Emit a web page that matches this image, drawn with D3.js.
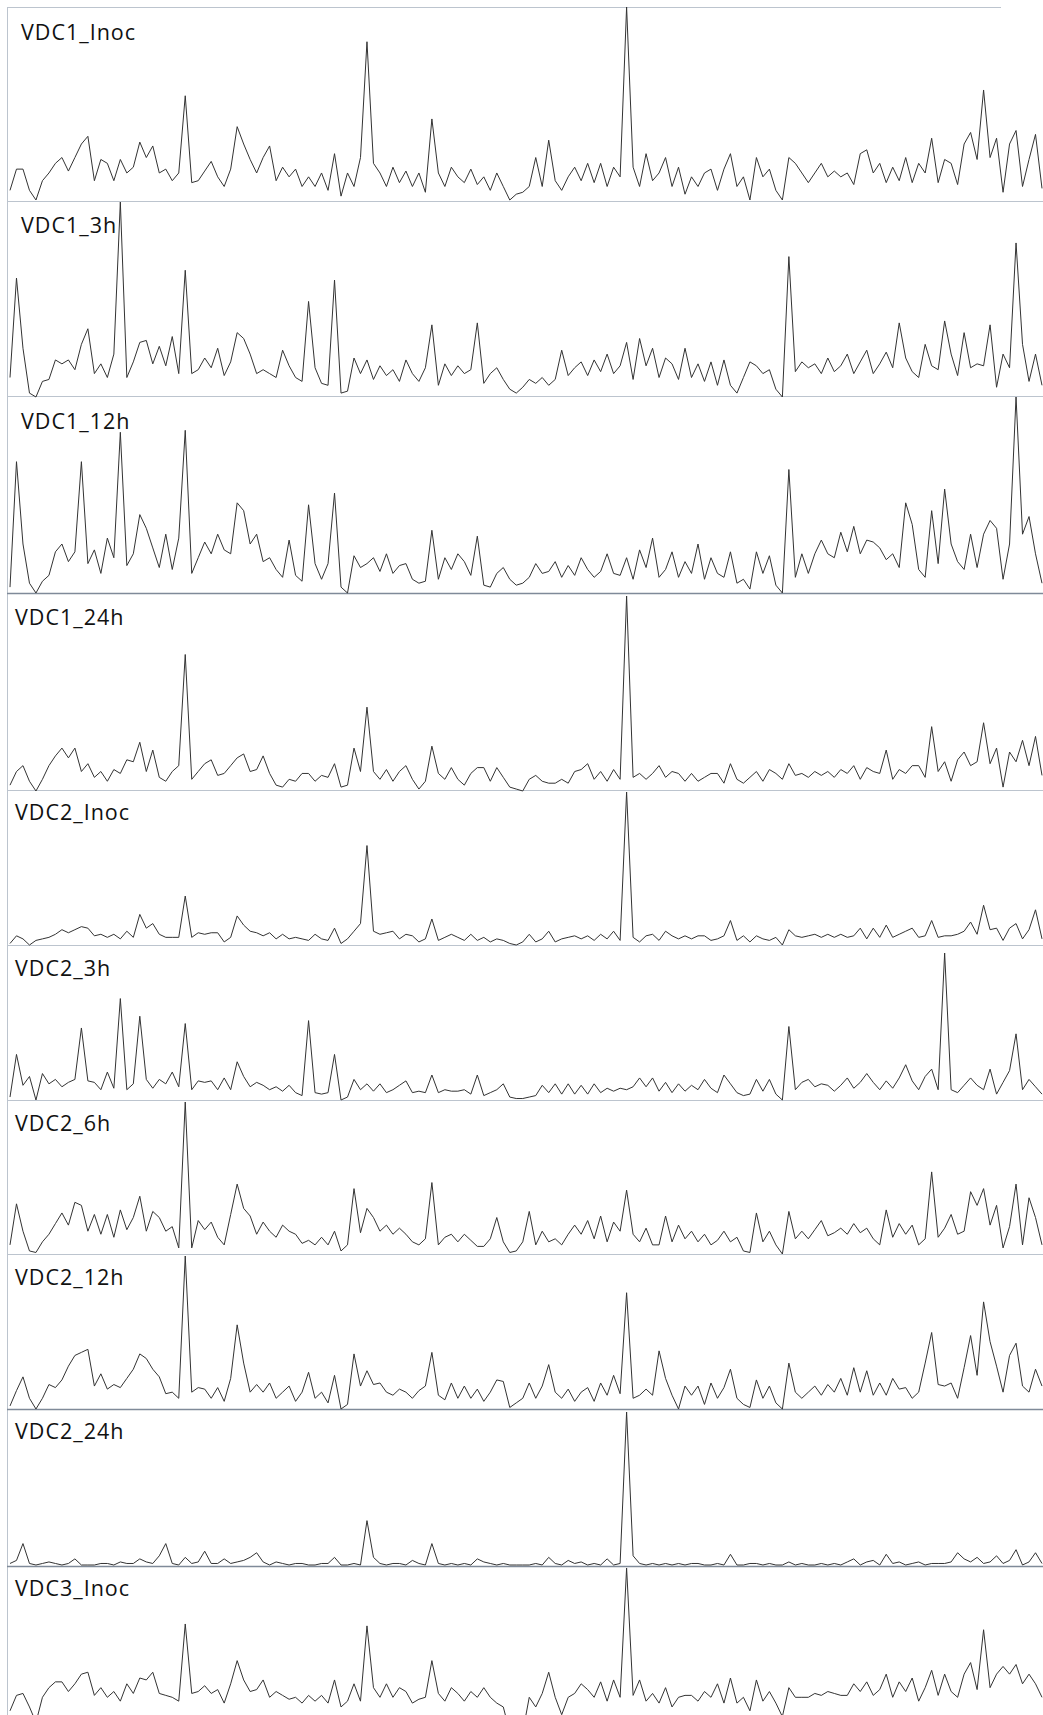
<!DOCTYPE html>
<html>
<script src='https://d3js.org/d3.v7.min.js'></script>
<style>
	body {margin: 0; background: #fff; }
	svg {display: block; }
	.trace {fill: none; stroke: #333; stroke-width: 1; stroke-linejoin: round; }
	.label {font-family: "Open Sans", "Noto Sans", sans-serif; font-size: 21.5px; letter-spacing: 1px; fill: #111; }
</style>
<body>
<svg id="chart" width="1043" height="1715"></svg>
<script>
// sample labels, one per stacked trace
const labels = ["VDC1_Inoc", "VDC1_3h", "VDC1_12h", "VDC1_24h", "VDC2_Inoc",
	"VDC2_3h", "VDC2_6h", "VDC2_12h", "VDC2_24h", "VDC3_Inoc"];

// relative intensity per channel (0-100, tallest peak of each trace = 100), 160 channels
const vdc1Inoc = [
	5,16,16,5,0,10,14,19,22,15, 22,29,33,10,21,19,10,21,14,17,
	30,22,28,14,16,10,14,54,9,10, 15,20,12,7,16,38,29,21,14,22,
	28,10,17,12,16,7,12,7,14,5, 24,2,14,7,22,82,19,14,7,17,
	9,15,7,14,4,42,14,7,17,12, 9,16,8,12,5,14,7,0,3,4,
	7,22,7,31,10,5,12,17,10,19, 9,19,7,17,12,100,17,7,24,10,
	14,22,7,17,3,12,7,14,16,5, 16,24,7,12,0,22,12,16,5,0,
	22,19,14,9,14,19,12,15,12,14, 8,24,26,14,19,9,17,10,22,9,
	19,14,32,9,21,19,8,29,35,21, 57,22,32,4,29,36,7,21,34,6];

const vdc1_3h = [
	10,61,25,2,0,8,9,19,17,19, 14,27,35,12,17,10,22,100,10,18,
	28,29,17,26,16,31,12,65,12,14, 20,15,25,11,18,33,30,22,12,14,
	12,10,24,16,10,8,49,15,7,6, 60,2,3,20,12,19,9,16,11,14,
	8,19,12,8,15,37,6,17,11,16, 12,14,38,7,12,15,9,4,2,5,
	9,7,10,6,9,24,11,15,18,11, 19,13,22,12,16,28,9,30,16,25,
	10,20,17,9,25,10,17,8,18,6, 19,6,2,10,18,16,12,14,4,0,
	72,13,18,15,17,12,20,13,16,22, 12,18,24,12,17,23,15,38,20,13,
	10,27,16,14,39,22,11,33,15,17, 16,37,5,22,15,79,27,8,22,6];

const vdc1_12h = [
	3,67,25,5,0,6,9,21,25,16, 21,67,15,22,10,28,18,82,14,20,
	40,33,23,13,30,12,28,83,10,18, 26,20,30,22,20,46,42,25,30,16,
	18,12,8,27,9,6,45,15,7,15, 51,3,0,19,13,15,18,11,20,10,
	14,15,7,5,6,32,7,18,12,20, 16,9,29,4,3,10,13,7,4,5,
	8,15,10,11,16,8,14,9,18,12, 8,11,20,10,9,18,7,22,13,28,
	8,12,21,8,16,10,25,7,18,10, 8,21,5,7,2,21,10,19,4,0,
	63,8,20,10,20,27,20,18,31,21, 34,20,27,26,23,17,20,13,46,35,
	12,8,42,15,53,25,16,12,30,13, 30,37,33,7,25,100,30,39,20,5];

const vdc1_24h = [
	3,10,13,5,0,6,13,18,22,17, 22,10,14,7,10,5,11,9,16,15,
	25,10,21,7,5,10,13,70,6,10, 14,16,8,9,13,17,19,10,11,18,
	9,3,2,6,5,9,9,5,8,7, 14,2,3,22,10,43,10,6,11,5,
	10,13,6,1,5,23,9,6,12,6, 3,9,12,12,5,12,7,2,1,0,
	6,8,5,4,4,6,4,10,11,14, 6,10,5,11,6,100,7,9,6,9,
	13,7,10,9,5,9,5,7,9,9, 4,14,6,4,7,10,5,11,9,6,
	14,8,9,7,10,8,10,7,11,9, 13,6,12,10,9,21,6,11,9,13,
	13,7,33,10,15,5,16,20,13,15, 35,14,22,2,20,15,26,13,28,8];

const vdc2Inoc = [
	1,6,4,0,3,4,5,7,10,8, 10,12,11,6,7,5,7,4,9,5,
	20,11,14,7,5,5,5,32,5,8, 7,8,8,2,5,19,13,9,8,6,
	8,4,7,4,5,4,3,7,4,3, 11,1,4,9,14,65,9,7,8,9,
	4,7,6,2,4,17,3,5,7,5, 3,7,3,5,2,4,3,1,0,2,
	7,2,4,9,2,4,5,6,4,6, 3,7,4,9,3,100,5,2,6,7,
	3,9,6,4,6,4,6,6,3,4, 6,16,3,6,2,6,4,3,5,0,
	10,6,5,6,7,5,7,5,7,5, 6,11,4,11,5,13,5,7,9,11,
	5,6,16,5,6,6,7,9,15,7, 26,10,11,3,11,14,4,10,23,4];

const vdc2_3h = [
	2,31,10,16,0,18,11,14,9,12, 14,49,13,12,7,19,8,69,7,11,
	57,14,8,14,11,19,9,52,7,13, 12,13,7,15,7,26,16,9,12,10,
	7,9,6,10,5,3,54,5,4,5, 31,0,2,14,7,11,6,11,5,7,
	10,13,5,6,5,17,5,7,6,6, 7,4,17,3,5,7,11,2,1,1,
	2,3,10,5,11,4,11,4,10,4, 11,5,8,6,8,7,9,15,9,15,
	6,12,5,11,6,10,7,14,8,5, 17,11,5,3,4,14,6,14,4,0,
	50,7,12,14,9,11,10,6,10,15, 8,12,18,12,7,13,8,15,24,13,
	7,16,21,7,100,7,5,10,15,10, 7,21,4,12,20,45,7,14,9,4];

const vdc2_6h = [
	6,33,15,2,1,8,13,20,27,19, 34,32,15,26,13,26,11,29,16,24,
	38,15,28,24,15,18,4,100,4,22, 16,21,11,6,26,46,30,25,13,21,
	15,11,19,15,13,7,9,6,11,6, 15,2,6,43,14,30,24,15,19,13,
	17,13,8,6,10,47,6,11,13,8, 13,9,5,5,10,24,8,1,2,8,
	28,6,15,8,10,6,13,19,13,22, 10,25,8,21,15,42,13,8,17,6,
	6,25,8,19,10,15,8,13,6,9, 15,8,11,2,1,27,8,15,6,0,
	28,10,15,10,16,22,12,14,17,13, 20,14,17,10,6,29,11,20,13,19,
	6,10,54,11,17,26,13,15,41,32, 43,19,32,4,18,46,6,37,24,6];

const vdc2_12h = [
	2,12,21,7,0,7,16,14,19,28, 35,37,39,15,23,13,16,14,20,26,
	36,33,26,21,10,11,7,100,11,14, 13,7,14,5,20,55,30,11,16,11,
	17,7,11,15,5,11,24,7,11,4, 22,0,3,36,15,25,16,17,11,9,
	13,11,7,12,15,37,9,6,17,7, 15,7,13,5,11,19,18,1,4,7,
	17,7,15,29,11,7,13,5,11,14, 5,17,9,22,10,76,7,9,13,9,
	38,20,9,0,15,9,15,3,17,7, 14,26,7,3,1,19,7,15,4,0,
	30,11,7,11,15,9,16,11,20,9, 27,11,25,9,17,9,20,13,14,7,
	11,30,50,16,15,17,7,27,48,22, 70,44,28,11,35,43,15,11,26,15];

const vdc2_24h = [
	1,3,14,1,0,1,2,1,0,1, 4,0,0,0,1,1,0,2,1,1,
	4,2,1,6,14,1,0,5,1,2, 9,1,1,4,1,2,3,5,8,2,
	0,2,1,0,1,1,0,0,1,1, 5,0,0,1,0,29,5,1,0,1,
	1,0,3,1,0,14,1,0,1,0, 1,0,4,2,1,0,1,0,0,0,
	0,1,0,5,1,0,3,1,2,0, 1,0,4,0,1,100,6,1,0,1,
	0,1,0,1,0,1,1,0,0,1, 0,7,0,0,1,1,0,1,0,0,
	2,0,1,0,0,1,0,1,0,2, 4,0,2,3,0,7,1,2,0,1,
	2,0,1,1,1,2,8,4,2,5, 1,2,6,1,3,10,0,2,8,1];

const vdc3Inoc = [
	26,34,35,28,20,33,38,41,41,36, 40,45,46,34,38,33,36,31,40,35,
	43,42,46,35,34,33,31,71,35,36, 39,35,37,30,40,52,42,36,37,42,
	33,36,34,32,33,30,34,31,34,30, 42,28,31,40,31,70,38,33,40,33,
	38,36,30,32,33,52,35,31,38,35, 31,36,33,38,33,30,28,15,14,15,
	33,28,35,46,33,24,33,35,40,37, 33,41,31,42,33,100,34,42,31,35,
	30,38,28,33,34,34,31,36,33,40, 30,43,30,33,26,42,31,36,30,23,
	38,33,33,33,35,34,36,35,34,34, 40,36,41,34,37,45,33,41,36,43,
	31,38,47,34,45,36,33,45,51,37, 68,38,45,49,45,50,40,45,40,33];

const series = [vdc1Inoc, vdc1_3h, vdc1_12h, vdc1_24h, vdc2Inoc,
	vdc2_3h, vdc2_6h, vdc2_12h, vdc2_24h, vdc3Inoc];

const svg = d3.select("#chart"),
	width = +svg.attr("width"),
	height = +svg.attr("height");

// each strip: border line at top, zero line (base) and where 100 lands (peak)
const strips = [
	{top: 7,    base: 200,  peak: 7,    lx: 21, ly: 40,   dark: false},
	{top: 201,  base: 397,  peak: 202,  lx: 21, ly: 233,  dark: false},
	{top: 396,  base: 593,  peak: 397,  lx: 21, ly: 429,  dark: false},
	{top: 593,  base: 791,  peak: 596,  lx: 15, ly: 625,  dark: true},
	{top: 790,  base: 945,  peak: 792,  lx: 15, ly: 820,  dark: false},
	{top: 945,  base: 1100, peak: 953,  lx: 15, ly: 976,  dark: false},
	{top: 1100, base: 1254, peak: 1102, lx: 15, ly: 1131, dark: false},
	{top: 1254, base: 1409, peak: 1256, lx: 15, ly: 1285, dark: false},
	{top: 1409, base: 1565, peak: 1412, lx: 15, ly: 1439, dark: true},
	{top: 1566, base: 1761, peak: 1568, lx: 15, ly: 1596, dark: true}
];

const x = d3.scaleLinear()
	.domain([0, vdc1Inoc.length - 1])
	.range([10, width - 1]);

// frame: left edge and separators
svg.append("line")
	.attr("x1", 7.5).attr("x2", 7.5)
	.attr("y1", 7).attr("y2", height)
	.attr("stroke", "#bcc4ce");

strips.forEach((s, k) => {
	svg.append("line")
		.attr("x1", 7).attr("x2", k === 0 ? 1001 : width)
		.attr("y1", s.top + 0.5).attr("y2", s.top + 0.5)
		.attr("stroke", s.dark ? "#7f8a99" : "#bcc4ce")
		.attr("stroke-width", s.dark ? 1.5 : 1);
});

strips.forEach((s, k) => {
	const y = d3.scaleLinear().domain([0, 100]).range([s.base, s.peak]);
	const line = d3.line()
		.x((d, i) => x(i))
		.y(d => y(d));

	svg.append("path")
		.datum(series[k])
		.attr("class", "trace")
		.attr("d", line);

	svg.append("text")
		.attr("class", "label")
		.attr("x", s.lx)
		.attr("y", s.ly)
		.text(labels[k]);
});
</script>
</body>
</html>
